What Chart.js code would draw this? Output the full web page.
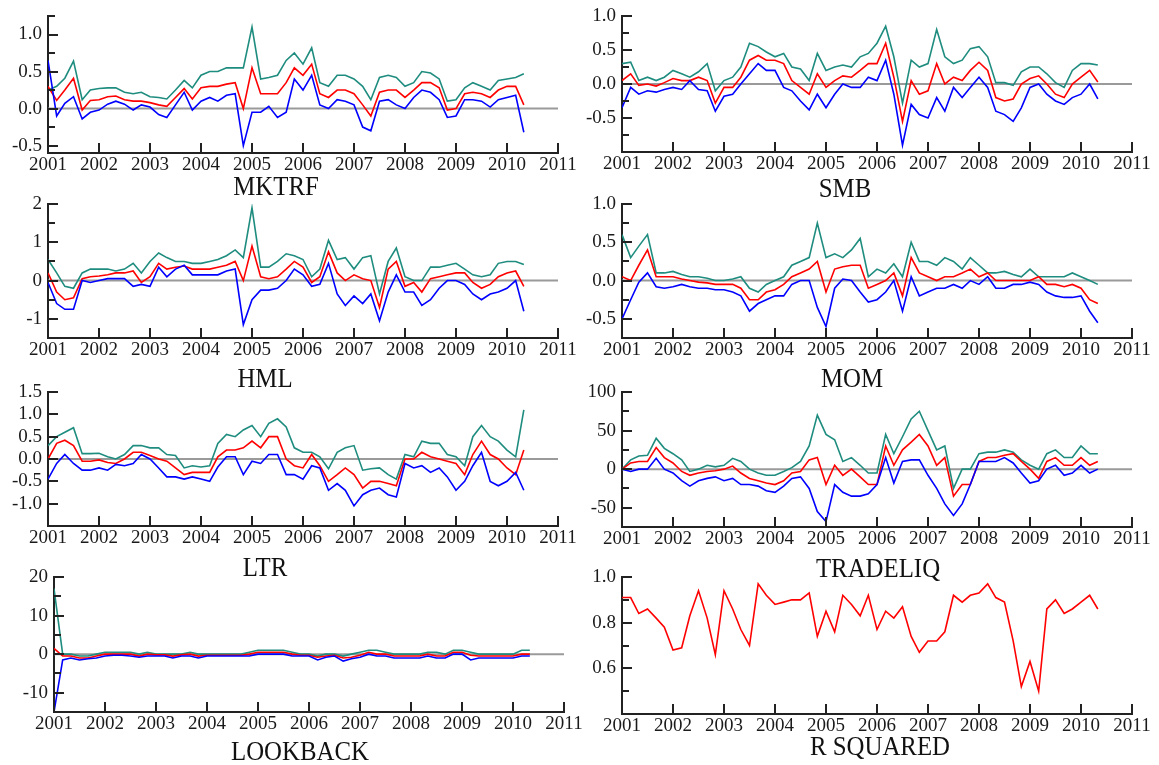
<!DOCTYPE html>
<html>
<head>
<meta charset="utf-8">
<script src="https://cdn.jsdelivr.net/npm/chart.js@4.4.0/dist/chart.umd.min.js"></script>
<style>
  body { margin: 0; background: #fff; width: 1159px; height: 765px; position: relative; overflow: hidden;
         font-family: 'Liberation Serif', 'Times New Roman', serif; }
  canvas { position: absolute; }
  .title { position: absolute; font-size: 27px; line-height: 1; color: #111; white-space: nowrap;
           transform: translateX(-50%) scaleX(0.92); }
</style>
</head>
<body>
<script>
// Sample dates (every second month)
const dates = [2001.00,2001.17,2001.33,2001.50,2001.67,2001.83,2002.00,2002.17,2002.33,2002.50,2002.67,2002.83,
  2003.00,2003.17,2003.33,2003.50,2003.67,2003.83,2004.00,2004.17,2004.33,2004.50,2004.67,2004.83,
  2005.00,2005.17,2005.33,2005.50,2005.67,2005.83,2006.00,2006.17,2006.33,2006.50,2006.67,2006.83,
  2007.00,2007.17,2007.33,2007.50,2007.67,2007.83,2008.00,2008.17,2008.33,2008.50,2008.67,2008.83,
  2009.00,2009.17,2009.33,2009.50,2009.67,2009.83,2010.00,2010.17,2010.33];
const yearTicks = [2001,2002,2003,2004,2005,2006,2007,2008,2009,2010,2011];

// MKTRF
const mktrfUpper = [0.25,0.30,0.41,0.64,0.12,0.25, 0.27,0.28,0.28,0.22,0.20,0.22, 0.16,0.15,0.13,0.25,0.38,0.28,
  0.45,0.50,0.50,0.55,0.55,0.55, 1.10,0.40,0.42,0.45,0.65,0.75, 0.60,0.82,0.35,0.30,0.45,0.45,
  0.40,0.30,0.12,0.42,0.45,0.42, 0.30,0.35,0.50,0.48,0.40,0.10, 0.12,0.28,0.35,0.30,0.25,0.38, 0.40,0.42,0.47];
const mktrfMid = [0.30,0.11,0.25,0.41,-0.02,0.11, 0.12,0.16,0.17,0.12,0.10,0.10, 0.08,0.05,0.03,0.15,0.27,0.13,
  0.28,0.30,0.30,0.33,0.35,0.00, 0.55,0.20,0.20,0.20,0.35,0.55, 0.45,0.60,0.20,0.15,0.25,0.25,
  0.20,0.05,-0.10,0.22,0.25,0.25, 0.15,0.25,0.35,0.35,0.28,-0.02, 0.00,0.20,0.22,0.20,0.15,0.25, 0.30,0.30,0.05];
const mktrfLower = [0.65,-0.10,0.07,0.16,-0.14,-0.05, -0.02,0.06,0.10,0.06,-0.02,0.05, 0.02,-0.08,-0.12,0.05,0.22,-0.02,
  0.10,0.15,0.10,0.18,0.20,-0.50, -0.05,-0.05,0.03,-0.12,-0.05,0.40, 0.25,0.45,0.05,0.00,0.12,0.10,
  0.05,-0.25,-0.30,0.10,0.12,0.05, 0.00,0.15,0.25,0.22,0.12,-0.12, -0.10,0.12,0.12,0.10,0.02,0.12, 0.15,0.18,-0.32];

// SMB
const smbUpper = [0.30,0.32,0.05,0.10,0.05,0.10, 0.20,0.15,0.10,0.18,0.30,-0.10, 0.05,0.10,0.25,0.60,0.55,0.47,
  0.40,0.45,0.25,0.22,0.05,0.45, 0.20,0.25,0.28,0.25,0.40,0.45, 0.60,0.85,0.40,-0.28,0.35,0.25,
  0.30,0.80,0.40,0.30,0.35,0.52, 0.55,0.40,0.02,0.02,-0.02,0.18, 0.25,0.25,0.15,0.02,-0.05,0.20, 0.30,0.30,0.28];
const smbMid = [0.05,0.15,-0.02,0.00,-0.03,0.02, 0.08,0.05,0.05,0.10,0.05,-0.28, -0.05,-0.05,0.10,0.35,0.42,0.35,
  0.35,0.30,0.05,-0.05,-0.15,0.15, -0.05,0.05,0.12,0.10,0.20,0.30, 0.30,0.60,0.10,-0.55,0.05,-0.15,
  -0.10,0.30,0.00,0.10,0.05,0.20, 0.32,0.20,-0.20,-0.25,-0.22,0.00, 0.08,0.12,0.00,-0.15,-0.20,0.00, 0.10,0.20,0.03];
const smbLower = [-0.35,-0.05,-0.15,-0.10,-0.12,-0.08, -0.05,-0.08,0.05,-0.08,-0.10,-0.40, -0.18,-0.15,0.00,0.15,0.30,0.20,
  0.20,-0.05,-0.10,-0.25,-0.38,-0.15, -0.35,-0.15,0.00,-0.05,-0.05,0.10, 0.05,0.35,-0.15,-0.90,-0.30,-0.45,
  -0.50,-0.20,-0.40,-0.05,-0.20,-0.05, 0.10,-0.05,-0.40,-0.45,-0.55,-0.35, -0.05,0.00,-0.15,-0.25,-0.30,-0.20, -0.15,0.00,-0.22];

// HML
const hmlUpper = [0.55,0.20,-0.15,-0.20,0.20,0.30, 0.30,0.30,0.25,0.30,0.45,0.20, 0.50,0.72,0.60,0.50,0.50,0.45,
  0.45,0.50,0.55,0.65,0.80,0.60, 1.90,0.35,0.35,0.50,0.70,0.65, 0.55,0.10,0.30,1.05,0.55,0.60,
  0.30,0.60,0.65,-0.35,0.50,0.85, 0.10,0.00,0.00,0.35,0.35,0.40, 0.45,0.30,0.15,0.10,0.15,0.45, 0.50,0.50,0.42];
const hmlMid = [0.20,-0.30,-0.50,-0.45,0.05,0.10, 0.12,0.15,0.20,0.20,0.25,-0.05, 0.10,0.45,0.30,0.35,0.38,0.30,
  0.30,0.30,0.35,0.40,0.50,0.00, 0.90,0.10,0.05,0.10,0.30,0.50, 0.35,-0.05,0.10,0.75,0.20,0.00,
  0.15,0.05,0.00,-0.70,0.30,0.50, -0.15,-0.05,-0.30,0.05,0.10,0.15, 0.20,0.20,-0.05,-0.20,-0.10,0.10, 0.20,0.25,-0.15];
const hmlLower = [-0.05,-0.60,-0.75,-0.75,0.00,-0.05, 0.00,0.05,0.05,0.05,-0.15,-0.10, -0.15,0.35,0.10,0.30,0.40,0.15,
  0.15,0.15,0.15,0.25,0.30,-1.15, -0.50,-0.25,-0.25,-0.20,0.00,0.30, 0.15,-0.15,-0.10,0.45,-0.35,-0.65,
  -0.40,-0.60,-0.35,-1.05,-0.30,0.15, -0.30,-0.30,-0.65,-0.50,-0.20,0.00, 0.00,-0.10,-0.35,-0.50,-0.35,-0.30, -0.20,0.00,-0.80];

// MOM
const momUpper = [0.60,0.30,0.45,0.60,0.10,0.10, 0.12,0.08,0.05,0.05,0.03,0.00, 0.00,0.02,0.05,-0.10,-0.15,-0.05,
  0.00,0.05,0.20,0.25,0.30,0.75, 0.30,0.35,0.30,0.40,0.55,0.05, 0.15,0.10,0.22,0.05,0.50,0.25,
  0.25,0.20,0.30,0.25,0.15,0.30, 0.20,0.10,0.10,0.12,0.08,0.05, 0.15,0.05,0.05,0.05,0.05,0.10, 0.05,0.00,-0.05];
const momMid = [0.05,0.00,0.20,0.40,0.05,0.05, 0.05,0.02,0.00,-0.02,-0.03,-0.05, -0.05,-0.05,-0.10,-0.25,-0.25,-0.15,
  -0.12,-0.05,0.05,0.10,0.15,0.25, -0.15,0.15,0.18,0.20,0.20,-0.10, -0.05,0.00,0.10,-0.20,0.30,0.10,
  0.05,0.00,0.05,0.05,0.10,0.15, 0.05,0.10,0.00,0.00,0.00,0.00, 0.00,0.05,-0.05,-0.05,-0.08,-0.05, -0.10,-0.25,-0.30];
const momLower = [-0.50,-0.25,-0.02,0.10,-0.08,-0.10, -0.08,-0.05,-0.08,-0.10,-0.10,-0.12, -0.12,-0.15,-0.20,-0.40,-0.30,-0.25,
  -0.20,-0.20,-0.05,0.00,0.00,-0.35, -0.60,-0.10,0.02,0.00,-0.15,-0.28, -0.25,-0.15,0.00,-0.40,0.05,-0.20,
  -0.15,-0.10,-0.10,-0.05,-0.10,0.00, -0.05,0.05,-0.10,-0.10,-0.05,-0.05, -0.02,-0.05,-0.15,-0.20,-0.22,-0.22, -0.20,-0.40,-0.55];

// LTR
const ltrUpper = [0.30,0.50,0.60,0.70,0.12,0.12, 0.13,0.05,0.00,0.10,0.30,0.30, 0.25,0.25,0.10,0.08,-0.20,-0.15,
  -0.18,-0.15,0.35,0.55,0.50,0.65, 0.75,0.50,0.80,0.90,0.72,0.25, 0.15,0.15,0.05,-0.22,0.15,0.25,
  0.30,-0.25,-0.22,-0.20,-0.35,-0.45, 0.10,0.05,0.40,0.35,0.35,0.10, 0.05,-0.15,0.50,0.75,0.50,0.40, 0.20,0.05,1.10];
const ltrMid = [0.00,0.35,0.42,0.30,-0.05,-0.05, -0.02,-0.08,-0.10,0.00,0.15,0.15, 0.08,0.00,-0.05,-0.20,-0.35,-0.30,
  -0.30,-0.30,0.05,0.20,0.20,0.25, 0.40,0.25,0.50,0.50,0.00,-0.15, -0.20,0.10,-0.15,-0.50,-0.35,-0.20,
  -0.35,-0.65,-0.50,-0.50,-0.55,-0.60, 0.00,0.00,0.15,0.05,0.00,-0.05, -0.10,-0.35,0.10,0.40,0.10,0.00, -0.20,-0.35,0.20];
const ltrLower = [-0.45,-0.10,0.10,-0.10,-0.25,-0.25, -0.20,-0.25,-0.12,-0.15,-0.10,0.10, 0.00,-0.20,-0.40,-0.40,-0.45,-0.40,
  -0.45,-0.50,-0.18,0.05,0.05,-0.35, -0.05,-0.10,0.10,0.10,-0.35,-0.35, -0.45,-0.15,-0.20,-0.70,-0.55,-0.70,
  -1.05,-0.80,-0.70,-0.65,-0.80,-0.85, -0.10,-0.20,-0.15,-0.30,-0.20,-0.40, -0.70,-0.50,-0.15,0.15,-0.50,-0.60, -0.50,-0.30,-0.70];

// TRADELIQ
const tradeliqUpper = [0,12,17,18,40,27, 20,12,-3,0,5,3, 5,14,10,0,-5,-8, -8,-3,2,10,30,70,
  45,38,10,15,5,-5, -5,45,20,42,65,75, 50,25,30,-25,0,0, 20,22,22,25,22,12, 5,0,20,25,15,15, 30,20,20];
const tradeliqMid = [0,8,10,10,28,15, 8,-3,-8,-5,-3,-2, 0,4,-5,-12,-15,-18, -20,-15,-5,-3,12,15,
  -20,5,-8,0,-10,-20, -20,30,5,25,35,45, 30,5,15,-35,-20,-20, 10,15,15,18,20,10, 0,-12,10,15,5,5, 15,5,10];
const tradeliqLower = [0,-3,0,0,14,0, -5,-15,-22,-15,-12,-10, -15,-12,-20,-20,-22,-28, -30,-22,-12,-10,-25,-55,
  -68,-20,-30,-35,-35,-32, -20,15,-18,10,12,12, -8,-25,-45,-60,-45,-20, 10,10,10,15,8,-5, -18,-15,0,5,-8,-5, 5,-5,0];

// LOOKBACK
const lookbackUpper = [17,0,0,-0.5,-0.5,0, 0.5,0.5,0.5,0.5,0,0.5, 0,0,0,0,0.5,0, 0,0,0,0,0,0.5,
  1,1,1,1,0.5,0, 0,-0.5,0,0,-0.5,0, 0.5,1,1,0.5,0,0, 0,0,0.5,0.5,0,1, 1,0.5,0,0,0,0, 0,1,1];
const lookbackMid = [1.5,-0.5,-0.5,-1,-1,-0.5, 0,0,0,0,-0.5,0, -0.2,-0.2,-0.5,-0.2,0,-0.5, -0.3,-0.3,-0.3,-0.3,-0.3,0,
  0.5,0.5,0.5,0.5,0,-0.3, -0.3,-0.8,-0.5,-0.3,-1,-0.8, -0.3,0.5,0,0,-0.5,-0.5, -0.5,-0.5,0,-0.5,-0.5,0.5,
  0.5,-0.3,-0.5,-0.5,-0.5,-0.5, -0.5,0,0];
const lookbackLower = [-15,-1.5,-1,-1.5,-1.2,-1, -0.5,-0.3,-0.3,-0.5,-0.8,-0.5, -0.5,-0.5,-1,-0.5,-0.5,-1,
  -0.5,-0.5,-0.5,-0.5,-0.5,-0.5, 0,0,0,0,-0.5,-0.5, -0.5,-1.5,-0.8,-0.5,-1.8,-1.2, -0.8,0,-0.5,-0.5,-1,-1,
  -1,-1,-0.5,-1,-1,0, 0,-1.5,-1,-1,-1,-1, -1,-0.5,-0.5];

// R SQUARED
const rSquared = [0.91,0.91,0.84,0.86,0.82,0.78, 0.68,0.69,0.83,0.94,0.82,0.66, 0.94,0.86,0.77,0.70,0.97,0.92,
  0.88,0.89,0.90,0.90,0.93,0.74, 0.85,0.76,0.92,0.88,0.83,0.92, 0.77,0.85,0.82,0.87,0.74,0.67,
  0.72,0.72,0.76,0.92,0.89,0.92, 0.93,0.97,0.91,0.89,0.72,0.52, 0.63,0.50,0.86,0.90,0.84,0.86, 0.89,0.92,0.86];

// Y tick labels (labelled) and unlabelled minor ticks
const mktrfLabels = ['1.0','0.5','0.0','-0.5'];     const mktrfMinor = [1.25,0.75,0.25,-0.25];
const smbLabels = ['1.0','0.5','0.0','-0.5'];       const smbMinor = [0.75,0.25,-0.25,-0.75];
const hmlLabels = ['2','1','0','-1'];               const hmlMinor = [1.5,0.5,-0.5];
const momLabels = ['1.0','0.5','0.0','-0.5'];       const momMinor = [0.75,0.25,-0.25];
const ltrLabels = ['1.5','1.0','0.5','0.0','-0.5','-1.0']; const ltrMinor = [];
const tradeliqLabels = ['100','50','0','-50'];      const tradeliqMinor = [75,25,-25];
const lookbackLabels = ['20','10','0','-10'];       const lookbackMinor = [15,5,-5];
const rsqLabels = ['1.0','0.8','0.6'];              const rsqMinor = [0.9,0.7,0.5];

const TEAL = '#1e8c7e', RED = '#ff0000', BLUE = '#0000ff';
const AXIS_W = 48, AXIS_H = 34, PAD_T = 12, PAD_R = 30;

Chart.defaults.font.family = "'Liberation Serif', 'Times New Roman', serif";
Chart.defaults.font.size = 19;
Chart.defaults.color = '#1a1a1a';

// zero reference line + tick marks pointing into the plot
const axisMarks = {
  id: 'axisMarks',
  beforeDatasetsDraw(chart, args, opts) {
    if (!opts.zero) return;
    const {ctx, chartArea: a, scales: {y}} = chart;
    const py = y.getPixelForValue(0);
    ctx.save();
    ctx.strokeStyle = '#9a9a9a';
    ctx.lineWidth = 2;
    ctx.beginPath(); ctx.moveTo(a.left, py); ctx.lineTo(a.right, py); ctx.stroke();
    ctx.restore();
  },
  afterDraw(chart) {
    const {ctx, chartArea: a, scales: {x, y}} = chart;
    ctx.save();
    ctx.strokeStyle = '#222';
    ctx.lineWidth = 2;
    ctx.beginPath();
    x.ticks.forEach(t => {
      const px = Math.round(x.getPixelForValue(t.value));
      ctx.moveTo(px, a.bottom); ctx.lineTo(px, a.bottom - 10);
    });
    y.ticks.forEach(t => {
      const py = Math.round(y.getPixelForValue(t.value));
      ctx.moveTo(a.left, py); ctx.lineTo(a.left + (t.label ? 10 : 7), py);
    });
    ctx.stroke();
    ctx.restore();
  }
};

const panels = [
  { title: 'MKTRF', box: [48, 16, 558, 153], min: -0.6, max: 1.25, labels: mktrfLabels, minor: mktrfMinor,
    series: [mktrfLower, mktrfMid, mktrfUpper], tx: 276, ty: 173 },
  { title: 'SMB', box: [622, 16, 1132, 152], min: -1, max: 1, labels: smbLabels, minor: smbMinor,
    series: [smbLower, smbMid, smbUpper], tx: 845, ty: 175 },
  { title: 'HML', box: [48, 204, 558, 338], min: -1.5, max: 2, labels: hmlLabels, minor: hmlMinor,
    series: [hmlLower, hmlMid, hmlUpper], tx: 265, ty: 365 },
  { title: 'MOM', box: [622, 204, 1132, 338], min: -0.75, max: 1, labels: momLabels, minor: momMinor,
    series: [momLower, momMid, momUpper], tx: 852, ty: 365 },
  { title: 'LTR', box: [48, 392, 558, 526], min: -1.5, max: 1.5, labels: ltrLabels, minor: ltrMinor,
    series: [ltrLower, ltrMid, ltrUpper], tx: 265, ty: 554 },
  { title: 'TRADELIQ', box: [622, 392, 1132, 527], min: -75, max: 100, labels: tradeliqLabels, minor: tradeliqMinor,
    series: [tradeliqLower, tradeliqMid, tradeliqUpper], tx: 878, ty: 555 },
  { title: 'LOOKBACK', box: [54, 577, 564, 712], min: -15, max: 20, labels: lookbackLabels, minor: lookbackMinor,
    series: [lookbackLower, lookbackMid, lookbackUpper], tx: 300, ty: 738 },
  { title: 'R SQUARED', box: [622, 577, 1132, 714], min: 0.4, max: 1.0, labels: rsqLabels, minor: rsqMinor,
    series: [rSquared], colors: [RED], noZero: true, tx: 880, ty: 733 }
];

function makePanel(p) {
  const [L, T, R, B] = p.box;
  const w = R - L + AXIS_W + PAD_R, h = B - T + PAD_T + AXIS_H;
  const cv = document.createElement('canvas');
  cv.width = w; cv.height = h;
  cv.style.left = (L - AXIS_W) + 'px'; cv.style.top = (T - PAD_T) + 'px';
  cv.style.width = w + 'px'; cv.style.height = h + 'px';
  document.body.appendChild(cv);

  const colors = p.colors || [BLUE, RED, TEAL];
  const yValues = p.labels.map(Number).concat(p.minor);
  const labelFor = v => {
    const i = p.labels.findIndex(s => Math.abs(Number(s) - v) < 1e-9);
    return i >= 0 ? p.labels[i] : '';
  };

  new Chart(cv, {
    type: 'line',
    data: {
      datasets: p.series.map((vals, i) => ({
        data: dates.map((d, k) => ({ x: d, y: vals[k] })),
        borderColor: colors[i],
        borderWidth: 1.6,
        pointRadius: 0,
        tension: 0
      }))
    },
    options: {
      responsive: false,
      animation: false,
      layout: { padding: { top: PAD_T, right: PAD_R, left: 0, bottom: 0 } },
      plugins: { legend: { display: false }, tooltip: { enabled: false }, axisMarks: { zero: !p.noZero } },
      scales: {
        x: {
          type: 'linear', min: 2001, max: 2011,
          afterBuildTicks: s => { s.ticks = yearTicks.map(v => ({ value: v })); },
          afterFit: s => { s.height = AXIS_H; s.paddingLeft = 0; s.paddingRight = 0; },
          ticks: { autoSkip: false, maxRotation: 0, padding: 1, callback: v => String(v) },
          grid: { display: false, drawTicks: false, tickLength: 0 },
          border: { display: true, color: '#222', width: 2 }
        },
        y: {
          min: p.min, max: p.max,
          afterBuildTicks: s => { s.ticks = yValues.map(v => ({ value: v })); },
          afterFit: s => { s.width = AXIS_W; s.paddingTop = 0; s.paddingBottom = 0; },
          ticks: { autoSkip: false, padding: 6, callback: v => labelFor(v) },
          grid: { display: false, drawTicks: false, tickLength: 0 },
          border: { display: true, color: '#222', width: 2 }
        }
      }
    },
    plugins: [axisMarks]
  });

  const t = document.createElement('div');
  t.className = 'title';
  t.textContent = p.title;
  t.style.left = p.tx + 'px';
  t.style.top = p.ty + 'px';
  document.body.appendChild(t);
}

panels.forEach(makePanel);
</script>
</body>
</html>
